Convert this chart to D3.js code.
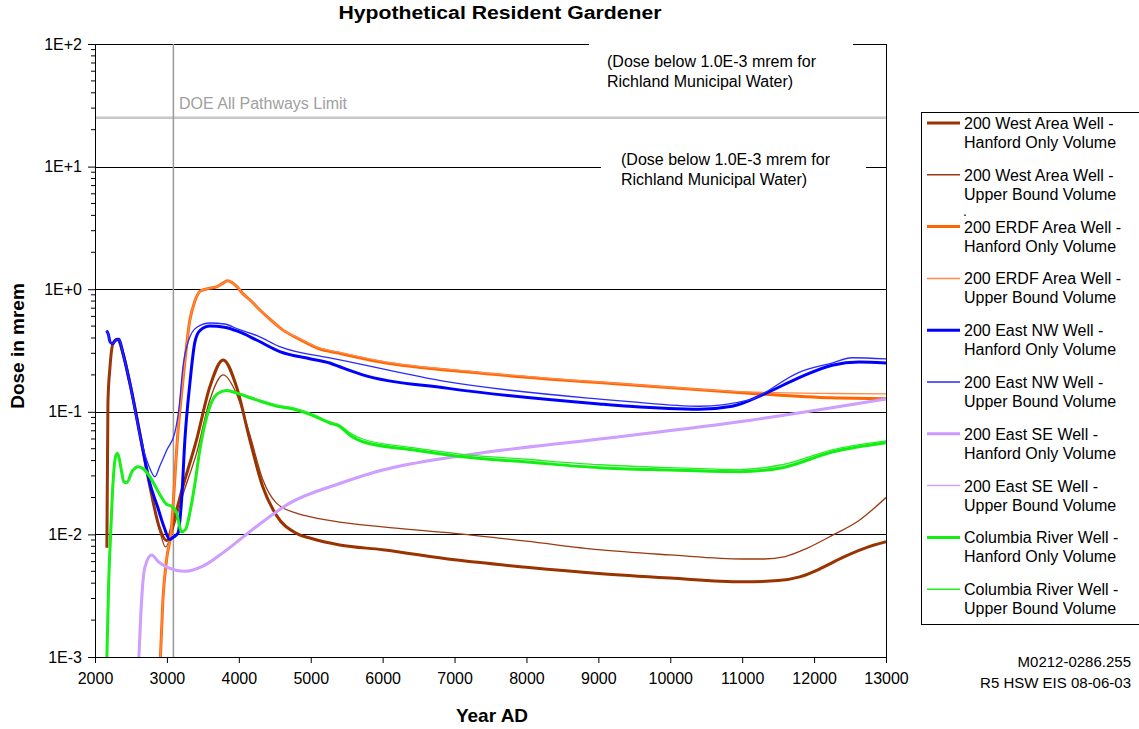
<!DOCTYPE html>
<html>
<head>
<meta charset="utf-8">
<script src="https://cdn.jsdelivr.net/npm/d3@7"></script>
<style>
  html, body { margin: 0; padding: 0; background: #fff; }
  svg { display: block; font-family: "Liberation Sans", Arial, sans-serif; }
</style>
</head>
<body>
<svg id="chart" width="1139" height="729"></svg>
<script>
// ---------------- DATA ----------------
const xTicks = [2000, 3000, 4000, 5000, 6000, 7000, 8000, 9000, 10000, 11000, 12000, 13000];
const yTicks = [1e-3, 1e-2, 1e-1, 1e0, 1e1, 1e2];
const yTickLabels = ["1E-3", "1E-2", "1E-1", "1E+0", "1E+1", "1E+2"];
const doeLimit = 25;
const markerYear = 3090;

const westHanford = [[2165,0.0078],[2180,0.12],[2208,0.23],[2250,0.36],[2310,0.39],[2389,0.3],[2486,0.17],[2639,0.06],[2764,0.0245],[2903,0.011],[2996,0.0089],[3083,0.0124],[3222,0.0245],[3412,0.059],[3597,0.16],[3782,0.265],[3968,0.16],[4153,0.059],[4333,0.0245],[4523,0.0143],[4801,0.0102],[5000,0.0093],[5403,0.0082],[6000,0.0075],[7000,0.0062],[8000,0.0054],[9000,0.0048],[10000,0.0044],[11000,0.0041],[11500,0.0042],[11800,0.0045],[12100,0.0053],[12400,0.0065],[12700,0.0077],[13000,0.0087]];
const westUpper = [[2165,0.0078],[2180,0.12],[2208,0.23],[2250,0.36],[2310,0.39],[2389,0.3],[2486,0.17],[2639,0.06],[2764,0.0245],[2903,0.0105],[2980,0.0079],[3083,0.011],[3222,0.021],[3412,0.046],[3597,0.125],[3782,0.2],[3968,0.14],[4153,0.065],[4333,0.028],[4523,0.018],[4801,0.0149],[5000,0.0139],[5403,0.0126],[6000,0.0115],[7000,0.0102],[8000,0.0088],[9000,0.0075],[10000,0.0068],[11000,0.0063],[11300,0.0063],[11600,0.0066],[11900,0.0077],[12264,0.0099],[12625,0.013],[13000,0.020]];
const erdfHanford = [[2910,0.001],[2944,0.0029],[2995,0.0062],[3056,0.0102],[3153,0.068],[3227,0.19],[3319,0.56],[3389,0.8],[3470,0.97],[3600,1.02],[3700,1.05],[3780,1.12],[3840,1.17],[3900,1.14],[3980,1.04],[4056,0.92],[4153,0.82],[4300,0.67],[4431,0.57],[4600,0.47],[4847,0.39],[5100,0.33],[5403,0.30],[5958,0.256],[7347,0.207],[9431,0.166],[11097,0.142],[12250,0.13],[13000,0.128]];
const erdfUpper = [[2910,0.001],[2944,0.0029],[2995,0.0062],[3056,0.0102],[3153,0.068],[3227,0.19],[3319,0.56],[3389,0.8],[3470,0.97],[3600,1.02],[3700,1.05],[3780,1.12],[3840,1.17],[3900,1.14],[3980,1.04],[4056,0.92],[4153,0.82],[4300,0.67],[4431,0.57],[4600,0.47],[4847,0.395],[5100,0.335],[5403,0.305],[5958,0.26],[7347,0.21],[9431,0.168],[11097,0.145],[12250,0.141],[13000,0.14]];
const nwHanford = [[2160,0.46],[2185,0.43],[2210,0.37],[2245,0.36],[2290,0.385],[2333,0.39],[2389,0.3],[2486,0.17],[2639,0.059],[2764,0.026],[2870,0.0168],[2960,0.0115],[3040,0.0091],[3090,0.0095],[3153,0.0102],[3204,0.019],[3250,0.059],[3319,0.17],[3389,0.37],[3458,0.46],[3600,0.5],[3800,0.49],[4000,0.45],[4246,0.385],[4569,0.31],[5000,0.27],[5264,0.25],[5403,0.233],[5722,0.2],[6889,0.156],[9014,0.116],[9431,0.111],[10403,0.105],[10861,0.111],[11333,0.142],[11792,0.19],[12250,0.24],[12625,0.255],[13000,0.25]];
const nwUpper = [[2160,0.46],[2185,0.43],[2210,0.37],[2245,0.36],[2290,0.385],[2333,0.39],[2389,0.3],[2486,0.17],[2639,0.059],[2750,0.036],[2833,0.0295],[2900,0.036],[3000,0.049],[3111,0.068],[3170,0.11],[3222,0.23],[3300,0.38],[3417,0.49],[3600,0.53],[3800,0.52],[4000,0.47],[4246,0.42],[4569,0.34],[5264,0.275],[5403,0.265],[6889,0.176],[9014,0.127],[9431,0.121],[10403,0.111],[11097,0.125],[11792,0.21],[12250,0.25],[12528,0.276],[13000,0.27]];
const seHanford = [[2611,0.001],[2648,0.0029],[2694,0.0054],[2787,0.0068],[2880,0.006],[3000,0.0054],[3250,0.005],[3500,0.0055],[3782,0.0071],[4246,0.0116],[4708,0.018],[5403,0.026],[6000,0.0335],[7000,0.043],[7347,0.046],[9014,0.060],[11097,0.085],[13000,0.127]];
const seUpper = [[2611,0.001],[2648,0.0029],[2694,0.0054],[2787,0.0068],[2880,0.006],[3000,0.0054],[3250,0.005],[3500,0.0055],[3782,0.0071],[4246,0.0116],[4708,0.018],[5403,0.026],[6000,0.0335],[7000,0.043],[7347,0.046],[9014,0.060],[11097,0.085],[13000,0.127]];
const crHanford = [[2165,0.001],[2190,0.004],[2218,0.0102],[2250,0.026],[2290,0.044],[2315,0.046],[2360,0.035],[2400,0.027],[2440,0.0264],[2520,0.033],[2601,0.0357],[2680,0.034],[2764,0.0295],[2850,0.024],[2926,0.020],[3000,0.0175],[3065,0.017],[3134,0.015],[3204,0.0105],[3260,0.011],[3319,0.015],[3390,0.026],[3458,0.049],[3597,0.11],[3700,0.14],[3829,0.149],[4000,0.14],[4246,0.125],[4569,0.11],[4708,0.107],[5000,0.095],[5264,0.081],[5403,0.076],[5550,0.064],[5722,0.057],[6417,0.049],[7111,0.043],[8000,0.039],[9014,0.035],[10000,0.0335],[10958,0.0325],[11556,0.035],[12250,0.047],[13000,0.056]];
const crUpper = [[2165,0.001],[2190,0.004],[2218,0.0102],[2250,0.026],[2290,0.044],[2315,0.046],[2360,0.035],[2400,0.027],[2440,0.0264],[2520,0.033],[2601,0.0357],[2680,0.034],[2764,0.0295],[2850,0.024],[2926,0.020],[3000,0.0175],[3065,0.017],[3134,0.015],[3204,0.0105],[3260,0.011],[3319,0.015],[3390,0.026],[3458,0.049],[3597,0.11],[3700,0.14],[3829,0.149],[4000,0.142],[4246,0.127],[4569,0.112],[4708,0.109],[5000,0.097],[5264,0.083],[5403,0.078],[5550,0.067],[5722,0.06],[6417,0.051],[7111,0.045],[8000,0.041],[9014,0.037],[10000,0.035],[10958,0.0338],[11556,0.037],[12250,0.049],[13000,0.058]];

const seriesNames = [
  ["200 West Area Well -", "Hanford Only Volume"],
  ["200 West Area Well -", "Upper Bound Volume"],
  ["200 ERDF Area Well -", "Hanford Only Volume"],
  ["200 ERDF Area Well -", "Upper Bound Volume"],
  ["200 East NW Well -", "Hanford Only Volume"],
  ["200 East NW Well -", "Upper Bound Volume"],
  ["200 East SE Well -", "Hanford Only Volume"],
  ["200 East SE Well -", "Upper Bound Volume"],
  ["Columbia River Well -", "Hanford Only Volume"],
  ["Columbia River Well -", "Upper Bound Volume"]
];
const seriesData = [westHanford, westUpper, erdfHanford, erdfUpper, nwHanford, nwUpper, seHanford, seUpper, crHanford, crUpper];
const seriesColors = ["#993300", "#9A3A10", "#FF6600", "#FF8A4A", "#0000FF", "#2A2AFF", "#CC99FF", "#CFA3FF", "#11EE11", "#22F022"];
const seriesWidths = [3, 1.3, 3, 1.3, 3, 1.3, 3, 1.3, 3, 1.3];

// ---------------- LAYOUT ----------------
const svg = d3.select("#chart");
const L = 95, R = 886, T = 44, B = 657;
const x = d3.scaleLinear().domain([2000, 13000]).range([L, R]);
const y = d3.scaleLog().domain([1e-3, 1e2]).range([B, T]);
const font = '"Liberation Sans", Arial, sans-serif';

svg.append("rect").attr("width", 1139).attr("height", 729).attr("fill", "#fff");

// gridlines
svg.append("g").selectAll("line").data(yTicks.filter(d => d > 1e-3 && d < 1e2)).join("line")
  .attr("x1", L).attr("x2", R)
  .attr("y1", d => Math.round(y(d)) + 0.5).attr("y2", d => Math.round(y(d)) + 0.5)
  .attr("stroke", "#000").attr("stroke-width", 1);
// top border and right border
svg.append("line").attr("x1", L).attr("x2", R).attr("y1", T + 0.5).attr("y2", T + 0.5).attr("stroke", "#000");
svg.append("line").attr("x1", R + 0.5).attr("x2", R + 0.5).attr("y1", T).attr("y2", B).attr("stroke", "#000");

// DOE limit
svg.append("line").attr("x1", L).attr("x2", R).attr("y1", y(doeLimit)).attr("y2", y(doeLimit))
  .attr("stroke", "#C8C8C8").attr("stroke-width", 2.5);
svg.append("text").attr("x", 179).attr("y", y(doeLimit) - 9)
  .attr("font-size", 16).attr("fill", "#A0A0A0").text("DOE All Pathways Limit");

// vertical marker
svg.append("line").attr("x1", x(markerYear)).attr("x2", x(markerYear)).attr("y1", T).attr("y2", B)
  .attr("stroke", "#999").attr("stroke-width", 1.5);

// text boxes masking grid
svg.append("rect").attr("x", 589).attr("y", 38).attr("width", 264).attr("height", 56).attr("fill", "#fff");
svg.append("rect").attr("x", 601).attr("y", 147).attr("width", 265).attr("height", 46).attr("fill", "#fff");
const note1 = svg.append("text").attr("font-size", 16).attr("fill", "#000");
note1.append("tspan").attr("x", 607).attr("y", 67).text("(Dose below 1.0E-3 mrem for");
note1.append("tspan").attr("x", 607).attr("y", 87).text("Richland Municipal Water)");
const note2 = svg.append("text").attr("font-size", 16).attr("fill", "#000");
note2.append("tspan").attr("x", 621).attr("y", 165).text("(Dose below 1.0E-3 mrem for");
note2.append("tspan").attr("x", 621).attr("y", 185).text("Richland Municipal Water)");

// series
const clip = svg.append("clipPath").attr("id", "plotclip");
clip.append("rect").attr("x", L).attr("y", T).attr("width", R - L).attr("height", B - T + 1);
const line = d3.line().x(d => x(d[0])).y(d => y(d[1])).curve(d3.curveMonotoneX);
const plot = svg.append("g").attr("clip-path", "url(#plotclip)");
seriesData.forEach((data, i) => {
  plot.append("path").datum(data).attr("d", line)
    .attr("fill", "none").attr("stroke", seriesColors[i]).attr("stroke-width", seriesWidths[i])
    .attr("stroke-linejoin", "round");
});

// axes
const xAxis = d3.axisBottom(x).tickValues(xTicks).tickFormat(d3.format("d")).tickSize(6).tickPadding(10);
const gx = svg.append("g").attr("transform", `translate(0,${B})`).call(xAxis);
gx.select(".domain").attr("stroke", "#000");
gx.selectAll("text").attr("font-size", 16).attr("font-family", font).attr("fill", "#000");

const yAxis = d3.axisLeft(y).tickValues(yTicks).tickFormat((d, i) => yTickLabels[i]).tickSize(7).tickPadding(6);
const gy = svg.append("g").attr("transform", `translate(${L},0)`).call(yAxis);
gy.select(".domain").attr("stroke", "#000");
gy.selectAll("text").attr("font-size", 16).attr("font-family", font).attr("fill", "#000");
// minor ticks
const minor = [];
for (let e = -3; e < 2; e++) for (let m = 2; m <= 9; m++) minor.push(m * Math.pow(10, e));
svg.append("g").selectAll("line").data(minor).join("line")
  .attr("x1", L - 4).attr("x2", L).attr("y1", d => y(d)).attr("y2", d => y(d)).attr("stroke", "#000");

// titles
svg.append("text").attr("x", 500).attr("y", 19).attr("text-anchor", "middle")
  .attr("font-size", 18).attr("font-weight", "bold").attr("textLength", 323).attr("lengthAdjust", "spacingAndGlyphs")
  .text("Hypothetical Resident Gardener");
svg.append("text").attr("x", 492).attr("y", 722).attr("text-anchor", "middle")
  .attr("font-size", 19).attr("font-weight", "bold").text("Year AD");
svg.append("text").attr("transform", "translate(24,346) rotate(-90)").attr("text-anchor", "middle")
  .attr("font-size", 19).attr("font-weight", "bold").text("Dose in mrem");

// legend
svg.append("rect").attr("x", 921.5).attr("y", 112.5).attr("width", 240).attr("height", 512)
  .attr("fill", "#fff").attr("stroke", "#000");
const lg = svg.append("g");
seriesNames.forEach((nm, i) => {
  const ly = 123 + i * 51.8;
  lg.append("line").attr("x1", 927).attr("x2", 960).attr("y1", ly).attr("y2", ly)
    .attr("stroke", seriesColors[i]).attr("stroke-width", seriesWidths[i] === 3 ? 3 : 1.5);
  const t = lg.append("text").attr("font-size", 16).attr("fill", "#000");
  t.append("tspan").attr("x", 964).attr("y", ly + 6).text(nm[0]);
  t.append("tspan").attr("x", 964).attr("y", ly + 25).text(nm[1]);
});
lg.append("text").attr("x", 963).attr("y", 216).attr("font-size", 14).text(".");

// footnote
svg.append("text").attr("x", 1131).attr("y", 667).attr("text-anchor", "end").attr("font-size", 15).text("M0212-0286.255");
svg.append("text").attr("x", 1131).attr("y", 688).attr("text-anchor", "end").attr("font-size", 15).text("R5 HSW EIS 08-06-03");
</script>
</body>
</html>
